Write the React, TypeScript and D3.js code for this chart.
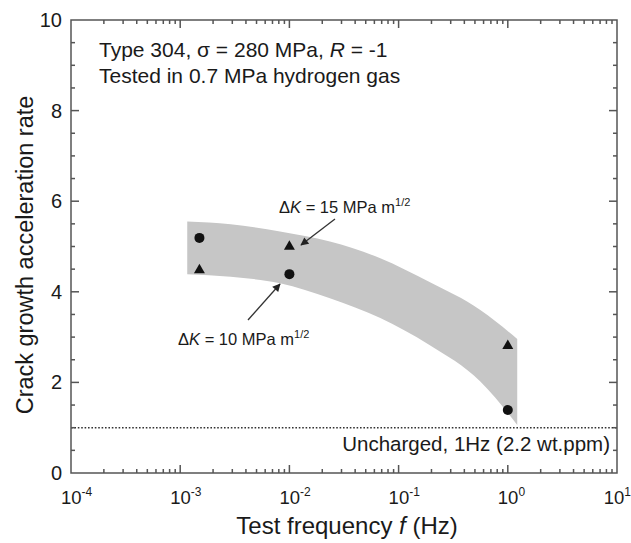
import React, { useEffect, useRef } from "react";
import * as d3 from "d3";

// measured points (frequency in Hz, acceleration ratio)
const circleFreq = [0.0015, 0.01, 1.0];
const circleRate = [5.19, 4.39, 1.39];
const triangleFreq = [0.0015, 0.01, 1.0];
const triangleRate = [4.5, 5.02, 2.83];

// shaded scatter band
const bandFreq = [0.00116, 0.0029, 0.0082, 0.0235, 0.068, 0.19, 0.56, 1.22];
const bandUpper = [5.55, 5.49, 5.33, 5.11, 4.74, 4.22, 3.6, 2.96];
const bandLower = [4.39, 4.33, 4.19, 3.86, 3.42, 2.83, 2.02, 1.06];

const xDecades = [-4, -3, -2, -1, 0, 1];
const yTicks = [0, 2, 4, 6, 8, 10];
const unchargedLevel = 1;

const FONT = "'Liberation Sans', Arial, Helvetica, sans-serif";

const App = () => {
  const svgRef = useRef<SVGSVGElement>(null);

  useEffect(() => {
    const w = 631;
    const h = 543;
    const left = 71, right = 617, top = 20, bottom = 473;
    const axisColor = "#555";
    const textColor = "#1a1a1a";

    const svg = d3.select(svgRef.current).attr("width", w).attr("height", h);
    svg.selectAll("*").remove();

    const x = d3.scaleLog().domain([1e-4, 10]).range([left, right]);
    const y = d3.scaleLinear().domain([0, 10]).range([bottom, top]);

    // band
    const band = d3.range(bandFreq.length).map(i => ({ f: bandFreq[i], hi: bandUpper[i], lo: bandLower[i] }));
    const area = d3.area<any>()
      .x(d => x(d.f))
      .y0(d => y(d.lo))
      .y1(d => y(d.hi))
      .curve(d3.curveMonotoneX);
    svg.append("path").attr("d", area(band)).attr("fill", "#c6c6c6");

    // dotted reference line
    svg.append("line")
      .attr("x1", left).attr("x2", right)
      .attr("y1", y(unchargedLevel)).attr("y2", y(unchargedLevel))
      .attr("stroke", "#333").attr("stroke-width", 1.6)
      .attr("stroke-dasharray", "1.6,1.8");

    // frame
    svg.append("rect")
      .attr("x", left).attr("y", top)
      .attr("width", right - left).attr("height", bottom - top)
      .attr("fill", "none").attr("stroke", axisColor).attr("stroke-width", 1.5);

    // y ticks (inward, both sides)
    const yMinor = d3.range(0, 10.01, 0.5);
    yMinor.forEach(v => {
      const len = v % 2 === 0 ? 8 : 4;
      if (v === 0 || v === 10) return;
      svg.append("line").attr("x1", left).attr("x2", left + len)
        .attr("y1", y(v)).attr("y2", y(v)).attr("stroke", axisColor).attr("stroke-width", 1.5);
      svg.append("line").attr("x1", right).attr("x2", right - len)
        .attr("y1", y(v)).attr("y2", y(v)).attr("stroke", axisColor).attr("stroke-width", 1.5);
    });
    svg.selectAll("text.ytick")
      .data(yTicks)
      .join("text")
      .attr("class", "ytick")
      .attr("x", left - 9)
      .attr("y", d => y(d) + 7)
      .attr("text-anchor", "end")
      .attr("font-family", FONT).attr("font-size", 20).attr("fill", textColor)
      .text(d => d);

    // x ticks (log, inward, top and bottom)
    xDecades.forEach(dec => {
      for (let m = 1; m <= 9; m++) {
        const v = m * Math.pow(10, dec);
        if (v > 10 || (dec === -4 && m === 1) || (dec === 1 && m === 1)) continue;
        const len = m === 1 ? 8 : 4;
        svg.append("line").attr("x1", x(v)).attr("x2", x(v))
          .attr("y1", bottom).attr("y2", bottom - len).attr("stroke", axisColor).attr("stroke-width", 1.5);
        svg.append("line").attr("x1", x(v)).attr("x2", x(v))
          .attr("y1", top).attr("y2", top + len).attr("stroke", axisColor).attr("stroke-width", 1.5);
      }
    });
    const xl = svg.selectAll("text.xtick")
      .data(xDecades)
      .join("text")
      .attr("class", "xtick")
      .attr("x", d => (d === 1 ? 631 : x(Math.pow(10, d)) - 10))
      .attr("y", bottom + 31)
      .attr("text-anchor", d => (d === 1 ? "end" : "start"))
      .attr("font-family", FONT).attr("font-size", 18.5).attr("fill", textColor);
    xl.append("tspan").text("10");
    xl.append("tspan").attr("dy", -8).attr("font-size", 12).text(d => String(d));

    // markers
    const circles = circleFreq.map((f, i) => ({ f, v: circleRate[i] }));
    svg.selectAll("circle.pt").data(circles).join("circle")
      .attr("class", "pt")
      .attr("cx", d => x(d.f)).attr("cy", d => y(d.v)).attr("r", 5)
      .attr("fill", "#111");
    const tris = triangleFreq.map((f, i) => ({ f, v: triangleRate[i] }));
    const tri = d3.symbol().type(d3.symbolTriangle).size(52);
    svg.selectAll("path.tri").data(tris).join("path")
      .attr("class", "tri")
      .attr("transform", d => `translate(${x(d.f)},${y(d.v) + 1})`)
      .attr("d", tri)
      .attr("fill", "#111");

    // arrows
    const defs = svg.append("defs");
    defs.append("marker")
      .attr("id", "ah").attr("viewBox", "0 0 10 10")
      .attr("refX", 9).attr("refY", 5)
      .attr("markerWidth", 12).attr("markerHeight", 8)
      .attr("markerUnits", "userSpaceOnUse")
      .attr("orient", "auto")
      .append("path").attr("d", "M0,0 L10,5 L0,10 z").attr("fill", "#222");
    [[335, 219, 301, 245], [248, 320, 280, 284]].forEach(([x1, y1, x2, y2]) => {
      svg.append("line").attr("x1", x1).attr("y1", y1).attr("x2", x2).attr("y2", y2)
        .attr("stroke", "#333").attr("stroke-width", 1.3)
        .attr("marker-end", "url(#ah)");
    });

    // annotations
    const dk = (xp: number, yp: number, val: string) => {
      const t = svg.append("text").attr("x", xp).attr("y", yp)
        .attr("font-family", FONT).attr("font-size", 16.5).attr("fill", textColor);
      t.append("tspan").text("\u0394");
      t.append("tspan").attr("font-style", "italic").text("K");
      t.append("tspan").text(` = ${val} MPa m`);
      t.append("tspan").attr("dy", -7).attr("font-size", 11).text("1/2");
    };
    dk(279, 213, "15");
    dk(178, 345, "10");

    const t1 = svg.append("text").attr("x", 99).attr("y", 57)
      .attr("font-family", FONT).attr("font-size", 21).attr("fill", textColor);
    t1.append("tspan").text("Type 304, \u03c3 = 280 MPa, ");
    t1.append("tspan").attr("font-style", "italic").text("R");
    t1.append("tspan").text(" = -1");
    svg.append("text").attr("x", 99).attr("y", 83)
      .attr("font-family", FONT).attr("font-size", 21).attr("fill", textColor)
      .text("Tested in 0.7 MPa hydrogen gas");

    svg.append("text").attr("x", 610).attr("y", 451)
      .attr("text-anchor", "end")
      .attr("font-family", FONT).attr("font-size", 20.5).attr("fill", textColor)
      .text("Uncharged, 1Hz (2.2 wt.ppm)");

    // axis titles
    const xt = svg.append("text").attr("x", 347).attr("y", 534)
      .attr("text-anchor", "middle")
      .attr("font-family", FONT).attr("font-size", 24).attr("fill", textColor);
    xt.append("tspan").text("Test frequency ");
    xt.append("tspan").attr("font-style", "italic").text("f");
    xt.append("tspan").text(" (Hz)");

    svg.append("text")
      .attr("transform", `translate(33,255) rotate(-90)`)
      .attr("text-anchor", "middle")
      .attr("font-family", FONT).attr("font-size", 23.5).attr("fill", textColor)
      .text("Crack growth acceleration rate");
  }, []);

  return <svg ref={svgRef} style={{ position: "absolute", left: 0, top: 0 }} />;
};

export default App;
